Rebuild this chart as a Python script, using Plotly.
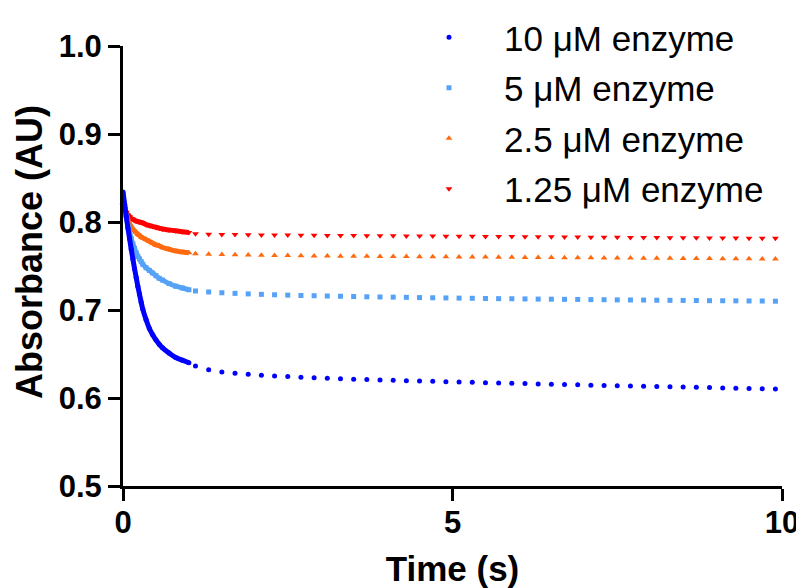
import plotly.graph_objects as go

# ---- data ----
t_fast = [0, 0.025, 0.05, 0.075, 0.1, 0.125, 0.15, 0.175, 0.2, 0.225, 0.25, 0.275,
          0.3, 0.35, 0.4, 0.45, 0.5, 0.55, 0.6, 0.7, 0.8, 0.9, 1.0]

t_slow = [1.1, 1.3, 1.5, 1.7, 1.9, 2.1, 2.3, 2.5, 2.7, 2.9, 3.1, 3.3, 3.5, 3.7, 3.9,
          4.1, 4.3, 4.5, 4.7, 4.9, 5.1, 5.3, 5.5, 5.7, 5.9, 6.1, 6.3, 6.5, 6.7, 6.9,
          7.1, 7.3, 7.5, 7.7, 7.9, 8.1, 8.3, 8.5, 8.7, 8.9, 9.1, 9.3, 9.5, 9.7, 9.9]

e10_fast = [0.834, 0.820, 0.806, 0.793, 0.781, 0.769, 0.758, 0.747, 0.737, 0.727, 0.718, 0.709,
            0.701, 0.689, 0.679, 0.672, 0.666, 0.661, 0.657, 0.651, 0.646, 0.643, 0.640]
e5_fast = [0.830, 0.818, 0.806, 0.796, 0.788, 0.781, 0.775, 0.770, 0.765, 0.761, 0.758, 0.755,
           0.752, 0.748, 0.745, 0.742, 0.739, 0.736, 0.734, 0.730, 0.727, 0.725, 0.723]
e25_fast = [0.822, 0.814, 0.808, 0.802, 0.798, 0.795, 0.792, 0.790, 0.788, 0.786, 0.785, 0.783,
            0.782, 0.780, 0.778, 0.776, 0.774, 0.773, 0.771, 0.769, 0.767, 0.766, 0.765]
e125_fast = [0.820, 0.815, 0.811, 0.808, 0.806, 0.804, 0.803, 0.802, 0.801, 0.8005, 0.800, 0.7995,
             0.799, 0.797, 0.796, 0.795, 0.794, 0.793, 0.792, 0.791, 0.790, 0.789, 0.788]

e10_slow = [0.6364, 0.6322, 0.6296, 0.6281, 0.6269, 0.6259, 0.6250, 0.6243, 0.6236, 0.6230,
            0.6224, 0.6219, 0.6214, 0.6209, 0.6205, 0.6201, 0.6197, 0.6193, 0.6189, 0.6185,
            0.6181, 0.6178, 0.6174, 0.6171, 0.6167, 0.6164, 0.6160, 0.6157, 0.6153, 0.6150,
            0.6146, 0.6143, 0.6140, 0.6136, 0.6133, 0.6130, 0.6127, 0.6124, 0.6121, 0.6118,
            0.6115, 0.6112, 0.6109, 0.6106, 0.6103]
e5_slow = [0.7216, 0.7205, 0.7196, 0.7189, 0.7183, 0.7178, 0.7173, 0.7169, 0.7165, 0.7162,
           0.7159, 0.7156, 0.7153, 0.7150, 0.7148, 0.7146, 0.7144, 0.7141, 0.7139, 0.7137,
           0.7135, 0.7133, 0.7131, 0.7129, 0.7128, 0.7126, 0.7124, 0.7123, 0.7121, 0.7120,
           0.7118, 0.7117, 0.7115, 0.7114, 0.7113, 0.7111, 0.7110, 0.7109, 0.7108, 0.7106,
           0.7105, 0.7104, 0.7103, 0.7102, 0.7100]
e25_slow = [0.7640, 0.7634, 0.7630, 0.7627, 0.7624, 0.7622, 0.7620, 0.7618, 0.7617, 0.7615,
            0.7614, 0.7612, 0.7611, 0.7610, 0.7609, 0.7608, 0.7607, 0.7606, 0.7605, 0.7604,
            0.7603, 0.7602, 0.7601, 0.7600, 0.7599, 0.7598, 0.7597, 0.7596, 0.7595, 0.7594,
            0.7593, 0.7592, 0.7591, 0.7590, 0.7589, 0.7588, 0.7587, 0.7586, 0.7585, 0.7584,
            0.7583, 0.7582, 0.7581, 0.7580, 0.7579]
e125_slow = [0.7866, 0.7862, 0.7859, 0.7857, 0.7855, 0.7853, 0.7852, 0.7851, 0.7850, 0.7849,
             0.7848, 0.7847, 0.7846, 0.7845, 0.7844, 0.7843, 0.7842, 0.7841, 0.7840, 0.7839,
             0.7838, 0.7837, 0.7836, 0.7835, 0.7834, 0.7833, 0.7832, 0.7831, 0.7830, 0.7829,
             0.7828, 0.7827, 0.7826, 0.7825, 0.7824, 0.7823, 0.7822, 0.7821, 0.7820, 0.7819,
             0.7818, 0.7817, 0.7816, 0.7815, 0.7814]

names = ["10 \u03bcM enzyme", "5 \u03bcM enzyme", "2.5 \u03bcM enzyme", "1.25 \u03bcM enzyme"]
colors = ["#0000FF", "#55A2F7", "#FF6A10", "#FF0000"]
symbols = ["circle", "square", "triangle-up", "triangle-down"]
sizes = [5, 5, 6, 6]
fast = [e10_fast, e5_fast, e25_fast, e125_fast]
slow = [e10_slow, e5_slow, e25_slow, e125_slow]

FONT = "Liberation Sans, Arial, sans-serif"

fig = go.Figure()
# draw lowest concentration first so the 10 uM trace sits on top
for i in [3, 2, 1, 0]:
    fig.add_trace(go.Scatter(
        x=t_fast, y=fast[i], mode="lines+markers",
        line=dict(color=colors[i], width=5, shape="spline"),
        marker=dict(color=colors[i], symbol=symbols[i], size=sizes[i]),
        showlegend=False, cliponaxis=False, hoverinfo="skip"))
    fig.add_trace(go.Scatter(
        x=t_slow, y=slow[i], mode="markers", name=names[i],
        marker=dict(color=colors[i], symbol=symbols[i], size=sizes[i]),
        legendrank=i + 1, legendgroup="g" + str(i), cliponaxis=False))

axis_common = dict(
    showline=True, linecolor="black", linewidth=3,
    ticks="outside", ticklen=12, tickwidth=3, tickcolor="black",
    showgrid=False, zeroline=False, automargin=True,
    tickfont=dict(family=FONT, size=31, color="black", weight="bold"),
)

# the page body adds an 8 px offset, so the figure is 796 x 580
W, H = 796, 580
fig.update_layout(
    width=W, height=H,
    margin=dict(l=115, r=22, t=38, b=102, autoexpand=False),
    paper_bgcolor="white", plot_bgcolor="white",
    xaxis=dict(range=[0, 10], tickvals=[0, 5, 10], ticktext=["0", "5", "10"],
               ticklabelstandoff=-5,
               title=dict(text="Time (s)", standoff=25,
                          font=dict(family=FONT, size=35, color="black", weight="bold")),
               **axis_common),
    yaxis=dict(range=[0.5, 1.0], tickvals=[0.5, 0.6, 0.7, 0.8, 0.9, 1.0],
               ticktext=["0.5", "0.6", "0.7", "0.8", "0.9", "1.0"],
               **axis_common),
    legend=dict(x=386 / W, xref="container", y=1.0, yref="container",
                xanchor="left", yanchor="top",
                font=dict(family=FONT, size=35, color="black"),
                itemwidth=100, tracegroupgap=2, bgcolor="rgba(0,0,0,0)",
                traceorder="grouped"),
    annotations=[dict(
        text="<b>Absorbance (AU)</b>", textangle=-90,
        xref="paper", yref="paper", x=0, y=0.5,
        xanchor="center", yanchor="middle", xshift=-94, yshift=14,
        showarrow=False,
        font=dict(family=FONT, size=36, color="black"))],
)

fig.write_html("out.html")
